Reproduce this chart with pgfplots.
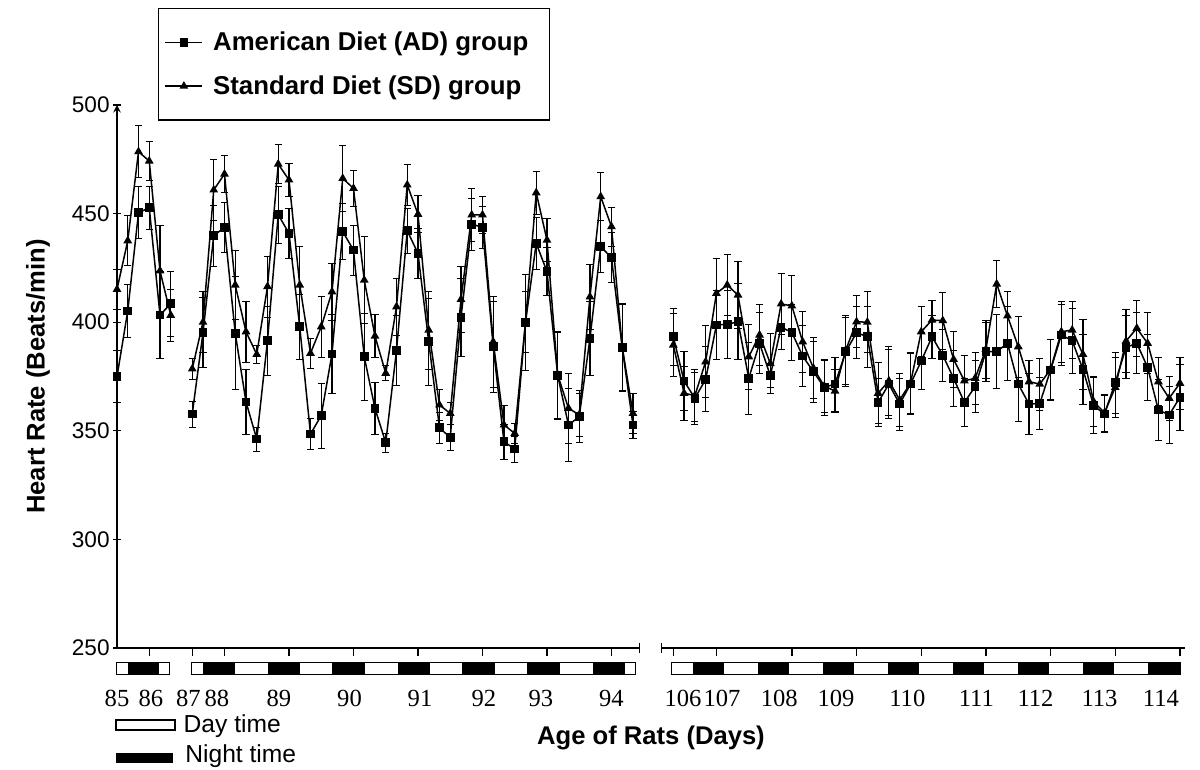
\documentclass[border=0pt]{standalone}
\usepackage{pgfplots}
\pgfplotsset{compat=1.18}
\usepackage{pgfplotstable}
\usepackage{fontspec}
\setmainfont{Liberation Sans}
\newfontfamily\timesfont{Liberation Serif}

% x = index of 4-hour bin along each axis segment
\pgfplotstableread{
x ad ade sd sde
0 374.9 12 415.1 9
1 405.2 12 437.5 11.5
2 450.4 12 478.5 12
3 452.7 10 474.2 9
4 403.3 20 423.7 21
5 408.5 15 403.2 12
}\segA
\pgfplotstableread{
x ad ade sd sde
7 357.7 6 378.5 5
8 395.2 16 400.0 14
9 439.8 14 460.9 14
10 443.7 11.5 468.2 8.5
11 394.9 26 417.1 16
12 363.3 15 395.6 14
13 346.2 5.5 385.2 4
14 391.5 16 416.4 14
15 449.5 13 472.8 9
16 440.9 11.5 465.5 7.5
17 397.9 15 417.1 18
18 348.5 7 385.7 7
19 357.0 15 397.9 14
20 385.4 18 414.0 13
21 441.7 13 466.2 15
22 433.2 11.5 461.6 8.5
23 384.1 20 419.4 20
24 360.3 12 393.6 10
25 344.5 4.5 376.5 3.5
26 386.9 16 407.1 13
27 442.1 10.5 463.2 9.5
28 431.7 11.5 449.7 8.5
29 391.0 20 396.4 18
30 351.4 7 361.9 7
31 346.9 6 358.0 5
32 402.1 18 410.5 15
33 445.1 12 449.4 12
34 443.7 9.5 449.4 8.5
35 388.7 21 391.0 21
36 345.0 8 352.7 9
37 341.6 6 348.8 4.5
38 399.8 22 400.0 14
39 436.3 12 459.6 10
40 423.3 11 437.8 10
41 375.4 20 375.7 20
42 352.7 17 360.4 16
43 356.5 12 357.3 10
44 392.6 17 411.7 15
45 434.8 12 457.8 11
46 429.7 11.5 444.0 9
47 388.3 20 388.7 20
48 352.7 6 358.0 9
}\segB
\pgfplotstableread{
x ad ade sd sde
0 393.3 13 389.5 14.5
1 372.9 13.5 367.3 12.5
2 365.0 12 366.2 12
3 373.7 15 381.8 16.5
4 398.7 16 413.3 16
5 399.0 15.5 417.1 14
6 400.2 17.5 412.5 15.5
7 374.2 16.5 384.1 15
8 390.3 14 394.1 14
9 375.4 5.5 381.0 14
10 397.7 10 408.4 14
11 395.3 13 407.5 14
12 384.4 14 391.0 14
13 377.2 14 378.8 14
14 370.0 13 370.6 12
15 371.5 12.5 368.3 10
16 386.4 16 387.2 16
17 395.2 12 400.2 12
18 393.3 14 400.0 14
19 363.1 11 367.3 14
20 371.5 16 373.0 16
21 362.3 12 364.2 12
22 371.5 14 371.9 14
23 382.1 13 395.6 11.5
24 393.3 10 401.0 9
25 384.8 12 400.7 13
26 374.2 13 382.9 13
27 363.1 11 373.0 11.5
28 370.3 12 374.2 12
29 386.4 13.5 387.5 13.5
30 386.4 17 417.6 11
31 390.3 17 402.9 11.5
32 371.5 17 388.7 14
33 362.3 14 372.6 10
34 362.6 12 371.5 12
35 378.0 14 378.3 14
36 394.1 14 395.6 14
37 391.5 15 396.4 13
38 378.3 16 385.2 16
39 361.6 13 363.4 11.5
40 357.7 8.5 358.3 8.5
41 372.2 14 370.0 14
42 388.4 14.5 391.3 14.5
43 390.3 14 397.2 13
44 379.2 15 390.3 14
45 359.6 14 372.6 11
46 357.3 13 365.0 10
47 365.4 15 371.9 12
}\segC

\newcommand{\pxy}[2]{({(#1)*0.5pt},{(770-(#2))*0.5pt})}
\newcommand{\night}[2]{\fill[black] \pxy{#1}{662.7} rectangle \pxy{#2}{675};}

\pgfplotsset{
  common/.style={
    scale only axis, height=271.5pt, ymin=250, ymax=500, clip=false,
    axis x line=bottom,
    axis line style={-, line width=0.65pt},
    every tick/.style={black, line width=0.65pt},
    tick align=outside, major tick length=4pt,
    extra x tick style={major tick length=0pt,
      tick label style={font=\timesfont\fontsize{12.3}{14}\selectfont, anchor=base, yshift=-29.3pt}},
  },
  ebars/.style={error bars/y dir=both, error bars/y explicit,
    error bars/error bar style={line width=0.6pt}},
  ADs/.style={black, line width=0.75pt, mark=square*, mark size=1.8pt,
    mark options={solid, fill=black}, ebars},
  SDs/.style={black, line width=0.75pt, mark=triangle*, mark size=1.8pt,
    mark options={solid, fill=black}, ebars},
}

\begin{document}
\begin{tikzpicture}
\path \pxy{0}{0} rectangle \pxy{1200}{770};

\begin{axis}[common,
  at={(58.5pt,61pt)}, anchor=south west, width=261.15pt,
  xmin=0, xmax=48.59,
  axis y line=left,
  ytick={250,300,350,400,450,500},
  yticklabel style={font=\fontsize{11.3}{13}\selectfont, inner xsep=1.5pt},
  /pgf/number format/assume math mode=true,
  xtick={3,7,10,16,22,28,34,40,46}, xticklabels={},
  extra x ticks={0,3.163,6.633,9.302,15.07,21.63,28.19,34.14,39.44,46.0},
  extra x tick labels={85,86,87,88,89,90,91,92,93,94},
  ylabel={Heart Rate (Beats/min)},
  ylabel style={font=\bfseries\fontsize{12.8}{15}\selectfont, at={(axis description cs:-0.151,0.5)}, anchor=center},
  xlabel={Age of Rats (Days)},
  xlabel style={font=\bfseries\fontsize{12.8}{15}\selectfont, at={(axis description cs:1.0224,-0.1786)}, anchor=base},
  legend style={at={(axis description cs:0.0785,1.1786)}, anchor=north west,
    draw=black, line width=0.65pt, inner xsep=3pt, inner ysep=9.5pt, row sep=7pt,
    font=\bfseries\fontsize{12.9}{15}\selectfont,
    nodes={inner sep=2pt, text depth=0.15em}},
  legend cell align=left,
  legend image code/.code={\draw[mark repeat=2,mark phase=2] plot coordinates {(0pt,0pt) (9.25pt,0pt) (18.5pt,0pt)};},
]
\addplot[ADs] table[x=x, y=ad, y error=ade] {\segA};
\addlegendentry{\hspace*{3pt}American Diet (AD) group\hspace*{5.5pt}}
\addplot[SDs] table[x=x, y=sd, y error=sde] {\segA};
\addlegendentry{\hspace*{3pt}Standard Diet (SD) group}
\addplot[forget plot, ADs] table[x=x, y=ad, y error=ade] {\segB};
\addplot[forget plot, SDs] table[x=x, y=sd, y error=sde] {\segB};
\end{axis}

\begin{axis}[common,
  at={(330.85pt,61pt)}, anchor=south west, width=261.65pt,
  xmin=-1.076, xmax=47.47,
  axis y line=none, ytick=\empty,
  xtick={0,4,11,17,23,29,35,41,47}, xticklabels={},
  extra x ticks={0.90,4.52,9.83,15.09,21.71,28.11,33.6,39.54,45.23},
  extra x tick labels={106,107,108,109,110,111,112,113,114},
]
\addplot[ADs] table[x=x, y=ad, y error=ade] {\segC};
\addplot[SDs] table[x=x, y=sd, y error=sde] {\segC};
\end{axis}

% axis break marks
\draw[line width=0.65pt] \pxy{639.3}{642.7} -- \pxy{639.3}{653.3};
\draw[line width=0.65pt] \pxy{661.7}{642.7} -- \pxy{661.7}{653.3};

% day / night bars
\draw[line width=0.5pt, fill=white] \pxy{116}{662.7} rectangle \pxy{169.3}{675};
\night{128.3}{159.3}
\draw[line width=0.5pt, fill=white] \pxy{191}{662.7} rectangle \pxy{635.3}{675};
\night{203.3}{235}\night{267.7}{300}\night{332.3}{365}\night{397.7}{430}
\night{462.3}{495}\night{527.3}{560}\night{592.7}{625}
\draw[line width=0.5pt, fill=white] \pxy{671}{662.7} rectangle \pxy{1180}{675};
\night{692.7}{724.3}\night{757.7}{789.3}\night{822.7}{854.3}\night{887.7}{919.3}
\night{952.7}{984.3}\night{1017.7}{1049.3}\night{1082.7}{1114.3}\night{1147.7}{1180}

% day / night key
\draw[line width=0.6pt, fill=white] \pxy{116}{720} rectangle \pxy{175}{730};
\node[anchor=base west, inner sep=0, font=\fontsize{12.3}{14}\selectfont] at \pxy{183.3}{732.3} {Day time};
\fill[black] \pxy{116}{752.7} rectangle \pxy{173.3}{763.3};
\node[anchor=base west, inner sep=0, font=\fontsize{12.3}{14}\selectfont] at \pxy{185}{762.7} {Night time};
\end{tikzpicture}
\end{document}
